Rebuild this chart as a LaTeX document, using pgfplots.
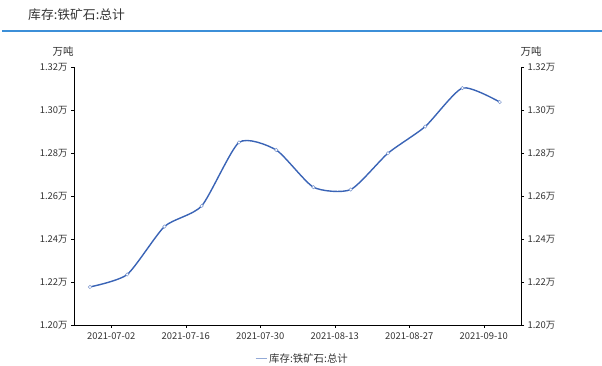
\documentclass[border=0pt]{standalone}
\usepackage{pgfplots}
\pgfplotsset{compat=1.18}
\usepackage{fontspec}
\setmainfont{Noto Sans CJK SC}
\definecolor{linec}{HTML}{3A64B6}
\definecolor{titleline}{HTML}{3C8FD8}
\definecolor{txt}{HTML}{333333}
\pgfplotstableread{
d v
-4 1.2177
3 1.2235
10 1.2458
17 1.2554
24 1.2849
31 1.2814
38 1.2641
45 1.2630
52 1.2799
59 1.2923
66 1.3102
73 1.3037
}\datatable
\begin{document}
\begin{tikzpicture}[x=1pt,y=1pt]
\useasboundingbox (0,0) rectangle (602,366);
\node[anchor=west,font=\fontsize{12.8}{14}\selectfont,text=txt,inner sep=0pt] at (28,351) {库存:铁矿石:总计};
\draw[titleline,line width=1.2pt] (2,335) -- (602,335);
\node[font=\fontsize{10.5}{12}\selectfont,text=txt] at (63,314) {万吨};
\node[font=\fontsize{10.5}{12}\selectfont,text=txt] at (531,314) {万吨};
\begin{axis}[
  at={(74pt,41pt)}, anchor=south west,
  scale only axis, width=447pt, height=258pt,
  xmin=-7, xmax=77, ymin=1.20, ymax=1.32,
  axis x line*=bottom, axis y line*=left,
  axis line style={black,line width=0.6pt},
  xtick={0,14,28,42,56,70},
  xticklabels={2021-07-02,2021-07-16,2021-07-30,2021-08-13,2021-08-27,2021-09-10},
  ytick={1.20,1.22,1.24,1.26,1.28,1.30,1.32},
  yticklabel={\pgfmathprintnumber[fixed,precision=2,fixed zerofill]{\tick}万},
  /pgf/number format/assume math mode=true,
  tick style={black,line width=0.5pt},
  tick align=outside, major tick length=3pt,
  tick label style={font=\fontsize{9.4}{11}\selectfont,text=txt},
  xticklabel style={yshift=-1pt},
  legend style={at={(0.511,-0.13)},anchor=center,draw=none,fill=none,font=\fontsize{10.4}{12}\selectfont,text=txt},
  legend image code/.code={\draw[color=linec!55,line width=1.2pt] (0pt,0pt) -- (11pt,0pt);},
  clip=false,
]
\addplot[color=linec,line width=1.4pt,smooth,tension=0.38,mark=*,mark size=1.7pt,mark options={fill=white,draw=linec!65,line width=0.5pt}] table[x=d,y=v] {\datatable};
\addlegendentry{库存:铁矿石:总计}
\end{axis}
\begin{axis}[
  at={(74pt,41pt)}, anchor=south west,
  scale only axis, width=447pt, height=258pt,
  xmin=-7, xmax=77, ymin=1.20, ymax=1.32,
  axis x line=none, axis y line*=right,
  axis line style={black,line width=0.6pt},
  ytick={1.20,1.22,1.24,1.26,1.28,1.30,1.32},
  yticklabel={\pgfmathprintnumber[fixed,precision=2,fixed zerofill]{\tick}万},
  /pgf/number format/assume math mode=true,
  tick style={black,line width=0.5pt},
  tick align=outside, major tick length=3pt,
  tick label style={font=\fontsize{9.4}{11}\selectfont,text=txt},
]
\end{axis}
\end{tikzpicture}
\end{document}
